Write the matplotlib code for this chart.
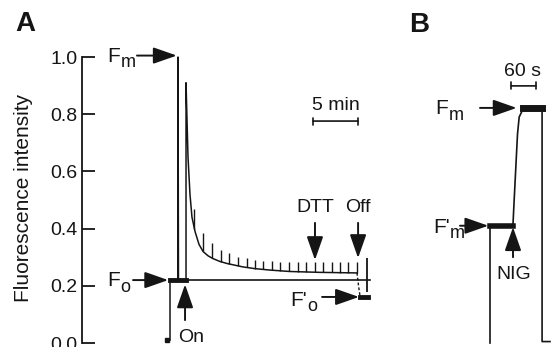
import numpy as np
import matplotlib
matplotlib.use('Agg')
import matplotlib.pyplot as plt
from matplotlib.ticker import FormatStrFormatter

plt.rcParams['font.family'] = ['Liberation Sans', 'DejaVu Sans']

# ---- panel A : chlorophyll fluorescence trace, time in min ----
trace_a_t = [0.0, 0.0, 0.89, 0.89, 0.94, 1.78, 1.78, 1.89, 2.0, 2.22, 2.44, 2.78,
             3.22, 3.67, 4.22, 4.78, 5.56, 6.33, 7.22, 8.11, 9.44, 11.11, 13.33,
             16.67, 20.78]
trace_a_f = [0.01, 0.222, 0.222, 1.0, 0.222, 0.222, 0.91, 0.78, 0.65, 0.52, 0.44, 0.39,
             0.345, 0.32, 0.305, 0.295, 0.285, 0.278, 0.272, 0.266, 0.26, 0.255, 0.25,
             0.247, 0.245]
# light off -> F'o
off_t = [20.78, 20.95, 21.11]
off_f = [0.245, 0.2, 0.165]
fo_prime_t = [21.11, 22.0]
fo_prime_f = [0.16, 0.16]
f0_t = [0.0, 1.78]
f0_f = [0.222, 0.222]
start_t = -0.33
start_f = 0.01

# saturating pulses (F'm) on top of the decay
pulse_t = [2.67, 3.67, 4.67, 5.67, 6.56, 7.56, 8.56, 9.44, 10.33, 11.33, 12.22,
           13.22, 14.22, 15.11, 16.11, 17.0, 18.0, 18.89, 19.78, 20.78]
pulse_base = [0.40, 0.32, 0.297, 0.284, 0.276, 0.27, 0.264, 0.26, 0.258, 0.255,
              0.253, 0.251, 0.25, 0.249, 0.248, 0.247, 0.247, 0.246, 0.246, 0.245]
pulse_top = [0.47, 0.385, 0.35, 0.325, 0.315, 0.30, 0.297, 0.29, 0.287, 0.285,
             0.284, 0.283, 0.283, 0.283, 0.283, 0.283, 0.283, 0.283, 0.283, 0.283]

baseline_t = [0.0, 22.2]
baseline_f = [0.222, 0.222]
end_t = 21.89
end_f = [0.178, 0.297]

yticks = [0.0, 0.2, 0.4, 0.6, 0.8, 1.0]

# ---- panel B : nigericin, time in s ----
trace_b_t = [0, 0, 55, 58, 62, 66, 70, 80, 125, 125, 144]
trace_b_f = [0.0, 0.41, 0.41, 0.5, 0.615, 0.73, 0.79, 0.82, 0.82, 0.005, 0.005]
fm_prime_t = [0, 55]
fm_prime_f = [0.41, 0.41]
fm_t = [78, 125]
fm_f = [0.82, 0.82]

INK = '#151515'
FS = 14


def arrow(ax, tail, tip):
    ax.annotate('', xy=tip, xytext=tail,
                arrowprops=dict(arrowstyle='-|>,head_length=0.8,head_width=0.28',
                                mutation_scale=18, lw=1.4, color=INK,
                                shrinkA=0, shrinkB=0),
                annotation_clip=False)


def flabel(ax, x, y, main, sub):
    t = ax.text(x, y, main, ha='left', va='center', fontsize=FS + 1, color=INK)
    ax.annotate(sub, xy=(1, 0), xycoords=t, xytext=(0.5, 2),
                textcoords='offset points', ha='left', va='center',
                fontsize=FS - 1, color=INK)


def scalebar(ax, x0, x1, y):
    ax.annotate('', xy=(x1, y), xytext=(x0, y),
                arrowprops=dict(arrowstyle='|-|,widthA=0.25,widthB=0.25',
                                lw=1.2, color=INK, shrinkA=0, shrinkB=0),
                annotation_clip=False)


fig = plt.figure(figsize=(5.55, 3.47), dpi=100)
axA = fig.add_axes([82 / 555, 4 / 347, 293 / 555, 286 / 347])
axB = fig.add_axes([420 / 555, 4 / 347, 135 / 555, 286 / 347])

# panel A
axA.set_xlim(-9.78, 22.78)
axA.set_ylim(0, 1)
for s in ['top', 'right', 'bottom']:
    axA.spines[s].set_visible(False)
axA.spines['left'].set_linewidth(1.3)
axA.spines['left'].set_color(INK)
axA.set_xticks([])
axA.set_yticks(yticks)
axA.yaxis.set_major_formatter(FormatStrFormatter('%.1f'))
axA.tick_params(axis='y', direction='in', length=9.5, width=1.3, pad=3,
                labelsize=FS, colors=INK)
axA.set_ylabel('Fluorescence intensity', fontsize=FS + 1, color=INK)
axA.yaxis.set_label_coords(-0.167, 0.507)

axA.plot(baseline_t, baseline_f, color=INK, lw=1.2, clip_on=False)
axA.plot(trace_a_t, trace_a_f, color=INK, lw=1.1, clip_on=False)
axA.plot(f0_t, f0_f, color=INK, lw=3.5, clip_on=False)
axA.plot(off_t, off_f, color=INK, lw=1.0, ls=(0, (2, 1.5)), clip_on=False)
axA.plot(fo_prime_t, fo_prime_f, color=INK, lw=3.5, clip_on=False)
axA.plot(start_t, start_f, 's', color=INK, ms=3.5, clip_on=False)
axA.vlines(pulse_t, pulse_base, pulse_top, color=INK, lw=1.0)
axA.vlines(end_t, end_f[0], end_f[1], color=INK, lw=1.3)

flabel(axA, -7.0, 1.003, 'F', 'm')
arrow(axA, (-3.67, 1.005), (0.75, 1.005))
flabel(axA, -7.0, 0.217, 'F', 'o')
arrow(axA, (-4.11, 0.22), (-0.2, 0.22))
arrow(axA, (1.67, 0.08), (1.67, 0.205))
axA.text(2.33, 0.02, 'On', ha='center', va='center', fontsize=FS, color=INK)
axA.text(16.1, 0.475, 'DTT', ha='center', va='center', fontsize=FS, color=INK)
arrow(axA, (16.11, 0.42), (16.11, 0.29))
axA.text(20.9, 0.475, 'Off', ha='center', va='center', fontsize=FS, color=INK)
arrow(axA, (20.9, 0.42), (20.9, 0.297))
flabel(axA, 13.33, 0.15, "F'", 'o')
arrow(axA, (16.9, 0.161), (21.0, 0.161))
scalebar(axA, 15.9, 20.9, 0.776)
axA.text(18.4, 0.83, '5 min', ha='center', va='center', fontsize=FS, color=INK)

# panel B
axB.set_xlim(-168, 156)
axB.set_ylim(0, 1)
axB.axis('off')
axB.plot(trace_b_t, trace_b_f, color=INK, lw=1.2, clip_on=False)
axB.plot(fm_prime_t, fm_prime_f, color=INK, lw=4, clip_on=False)
axB.plot(fm_t, fm_f, color=INK, lw=5, clip_on=False)

scalebar(axB, 50.4, 110.4, 0.899)
axB.text(76.8, 0.948, '60 s', ha='center', va='center', fontsize=FS, color=INK)
flabel(axB, -132, 0.82, 'F', 'm')
arrow(axB, (-24, 0.822), (64, 0.822))
flabel(axB, -137, 0.405, "F'", 'm')
arrow(axB, (-72, 0.41), (-4, 0.41))
arrow(axB, (55.2, 0.30), (55.2, 0.405))
axB.text(57.6, 0.24, 'NIG', ha='center', va='center', fontsize=FS, color=INK)

fig.text(25 / 555, 1 - 24 / 347, 'A', ha='center', va='center',
         fontsize=20, fontweight='bold', color=INK)
fig.text(419 / 555, 1 - 25 / 347, 'B', ha='center', va='center',
         fontsize=20, fontweight='bold', color=INK)

fig.savefig('out.png', dpi=100)
